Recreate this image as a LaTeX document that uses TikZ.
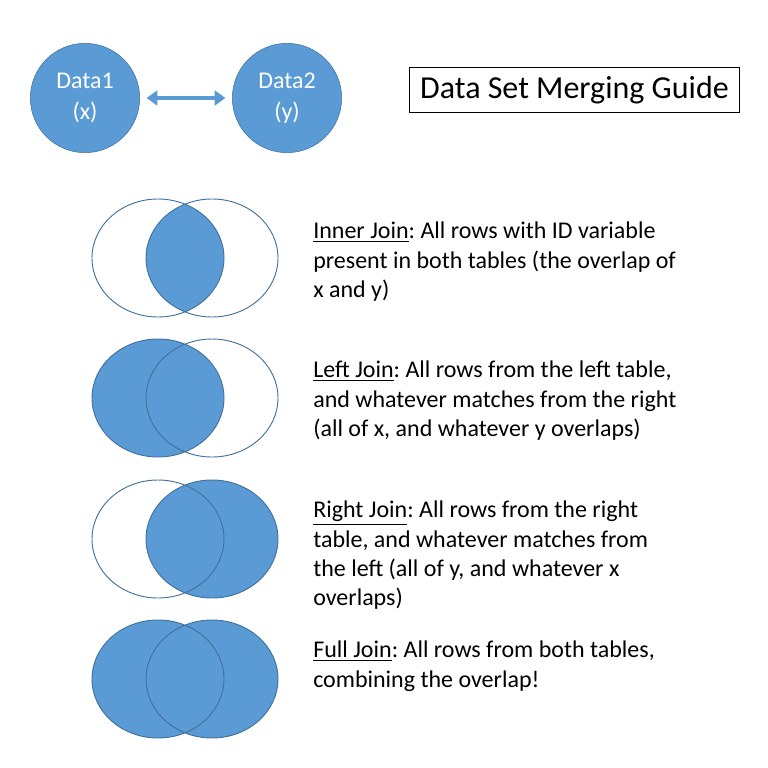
\documentclass[tikz,border=0pt]{standalone}
\usepackage{fontspec}
\setmainfont{Carlito}
\frenchspacing
\usetikzlibrary{arrows.meta,positioning}
\definecolor{vennblue}{HTML}{5B9BD5}
\definecolor{vennedge}{HTML}{41719C}
\tikzset{datanode/.style={circle,draw=vennedge,fill=vennblue,minimum size=82pt,inner sep=0pt,align=center,text=white,font=\fontsize{18}{23.5}\selectfont},dataarrow/.style={{Triangle[width=11pt,length=8pt]}-{Triangle[width=11pt,length=8pt]},line width=3pt,draw=vennblue,shorten <=5pt,shorten >=5pt},titlebox/.style={draw=black,line width=0.8pt,minimum width=248pt,minimum height=34pt,inner sep=0pt,font=\fontsize{24}{29}\selectfont},joinlabel/.style={anchor=north west,inner sep=0pt,align=left,font=\fontsize{18}{21.8}\selectfont},vennline/.style={draw=vennedge,line width=0.7pt},vennfill/.style={fill=vennblue}}
\newcommand{\leftset}[1]{(158,#1) ellipse [x radius=66, y radius=59]}
\newcommand{\rightset}[1]{(212,#1) ellipse [x radius=66, y radius=59]}
\begin{document}
\begin{tikzpicture}[x=0.75pt,y=-0.75pt]
\useasboundingbox (0,0) rectangle (768,768);
\node[datanode] (data1) at (85,98) {Data1\\(x)};
\node[datanode] (data2) at (287,98) {Data2\\(y)};
\draw[dataarrow] (data1) -- (data2);
\node[titlebox] (title) at (574.5,90) {Data Set Merging Guide};
\begin{scope}
\clip \leftset{258};
\fill[vennfill] \rightset{258};
\end{scope}
\draw[vennline] \leftset{258} \rightset{258};
\fill[vennfill] \leftset{398};
\draw[vennline] \leftset{398} \rightset{398};
\fill[vennfill] \rightset{539};
\draw[vennline] \leftset{539} \rightset{539};
\fill[vennfill] \leftset{679} \rightset{679};
\draw[vennline] \leftset{679} \rightset{679};
\node[joinlabel] (inner) at (313,222) {\underline{Inner Join}: All rows with ID variable\\present in both tables (the overlap of\\x and y)};
\node[joinlabel] (left) at (313,361) {\underline{Left Join}: All rows from the left table,\\and whatever matches from the right\\(all of x, and whatever y overlaps)};
\node[joinlabel] (right) at (313,501) {\underline{Right Join}: All rows from the right\\table, and whatever matches from\\the left (all of y, and whatever x\\overlaps)};
\node[joinlabel] (full) at (313,641) {\underline{Full Join}: All rows from both tables,\\combining the overlap!};
\end{tikzpicture}
\end{document}
